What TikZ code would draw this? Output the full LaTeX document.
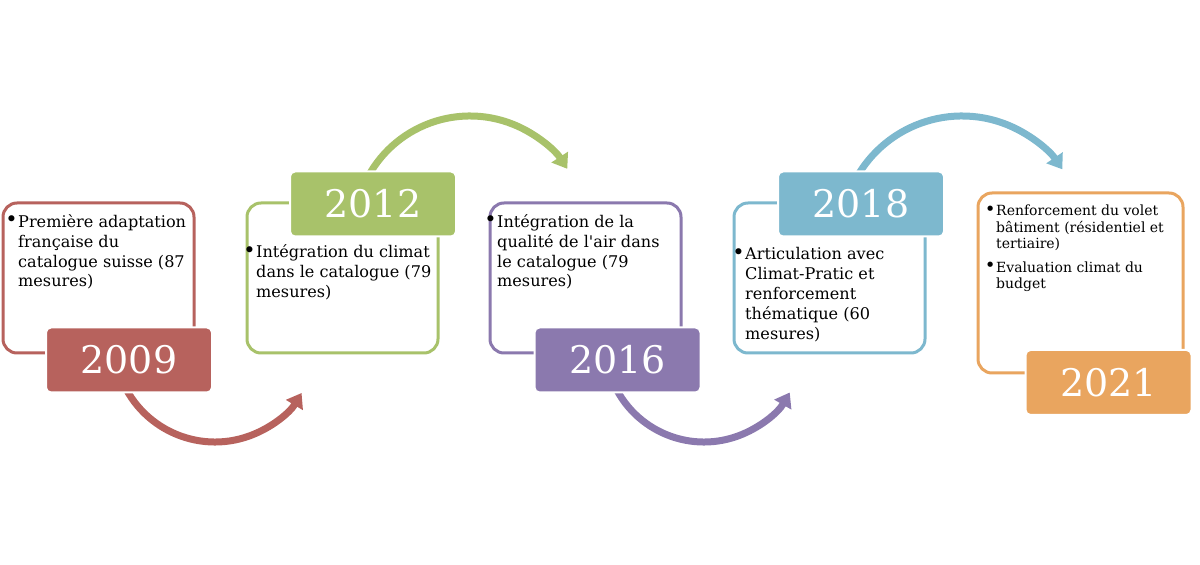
\documentclass[tikz,border=0pt]{standalone}
\usepackage{fontspec}
\setmainfont{DejaVu Serif}
\usetikzlibrary{arrows.meta}
\font\aposfont="DejaVu Serif" at 16.1pt
\definecolor{cred}{HTML}{B7625D}
\definecolor{cgreen}{HTML}{A8C26A}
\definecolor{cpurple}{HTML}{8B79AE}
\definecolor{cblue}{HTML}{7DB8CE}
\definecolor{corange}{HTML}{E9A55F}
\newcommand{\bul}{\leavevmode\llap{\raisebox{0.05em}{\scalebox{1.3}{•}}\hspace{0.5pt}}}
\tikzset{
  outline/.style={draw=#1, line width=3pt, rounded corners=14pt, minimum width=191pt, minimum height=150pt, inner sep=0pt, fill=white},
  yearbox/.style={fill=#1, draw=white, line width=2pt, rounded corners=5pt, minimum width=166pt, minimum height=65pt, text=white, font=\fontsize{38}{40}\selectfont, inner sep=0pt},
  arcarrow/.style={draw=#1, line width=7pt, -{Triangle[width=19pt,length=14pt]}},
  bodytext/.style={anchor=base west, inner sep=0pt, text=black, font=\fontsize{16.1}{19.8}\selectfont},
  smalltext/.style={anchor=base west, inner sep=0pt, text=black, font=\fontsize{14}{16.4}\selectfont},
}
\begin{document}
\begin{tikzpicture}[x=1pt,y=1pt]
\useasboundingbox (0,0) rectangle (1200,565);
% outline boxes
\node[outline=cred]    (o1) at (98.5,287) {};
\node[outline=cgreen]  (o2) at (342.5,287) {};
\node[outline=cpurple] (o3) at (585.5,287) {};
\node[outline=cblue]   (o4) at (829.5,287) {};
\node[outline=corange, minimum width=205pt, minimum height=180pt] (o5) at (1080.5,282) {};
% texts
\node[bodytext] (t1) at (18,337.5) {\parbox[t]{220pt}{\raggedright\bul Première adaptation\\française du\\catalogue suisse (87\\mesures)}};
\node[bodytext] (t2) at (256,307) {\parbox[t]{220pt}{\raggedright\bul Intégration du climat\\dans le catalogue (79\\mesures)}};
\node[bodytext] (t3) at (497,337.5) {\parbox[t]{220pt}{\raggedright\bul Intégration de la\\qualité de l{\aposfont'}air dans\\le catalogue (79\\mesures)}};
\node[bodytext] (t4) at (745,305) {\parbox[t]{220pt}{\raggedright\bul Articulation avec\\Climat-Pratic et\\renforcement\\thématique (60\\mesures)}};
\node[smalltext] (t5) at (996,349) {\parbox[t]{220pt}{\raggedright\bul Renforcement du volet\\bâtiment (résidentiel et\\tertiaire)\\[7pt]\bul Evaluation climat du\\budget}};
% arrows
\coordinate (c1) at (215,224);
\coordinate (c2) at (470,333);
\coordinate (c3) at (704,222);
\coordinate (c4) at (962,328);
\draw[arcarrow=cred]    ([shift={(200:101)}]c1) arc[start angle=200, end angle=329, radius=101];
\draw[arcarrow=cgreen]  ([shift={(155:116)}]c2) arc[start angle=155, end angle=33, radius=116];
\draw[arcarrow=cpurple] ([shift={(200:99)}]c3) arc[start angle=200, end angle=330, radius=99];
\draw[arcarrow=cblue]   ([shift={(155:121)}]c4) arc[start angle=155, end angle=34, radius=121];
% year boxes
\node[yearbox=cred]    (y1) at (129,205) {2009};
\node[yearbox=cgreen]  (y2) at (373,361) {2012};
\node[yearbox=cpurple] (y3) at (617.5,205) {2016};
\node[yearbox=cblue]   (y4) at (861,361) {2018};
\node[yearbox=corange] (y5) at (1108.5,182.5) {2021};
\end{tikzpicture}
\end{document}
